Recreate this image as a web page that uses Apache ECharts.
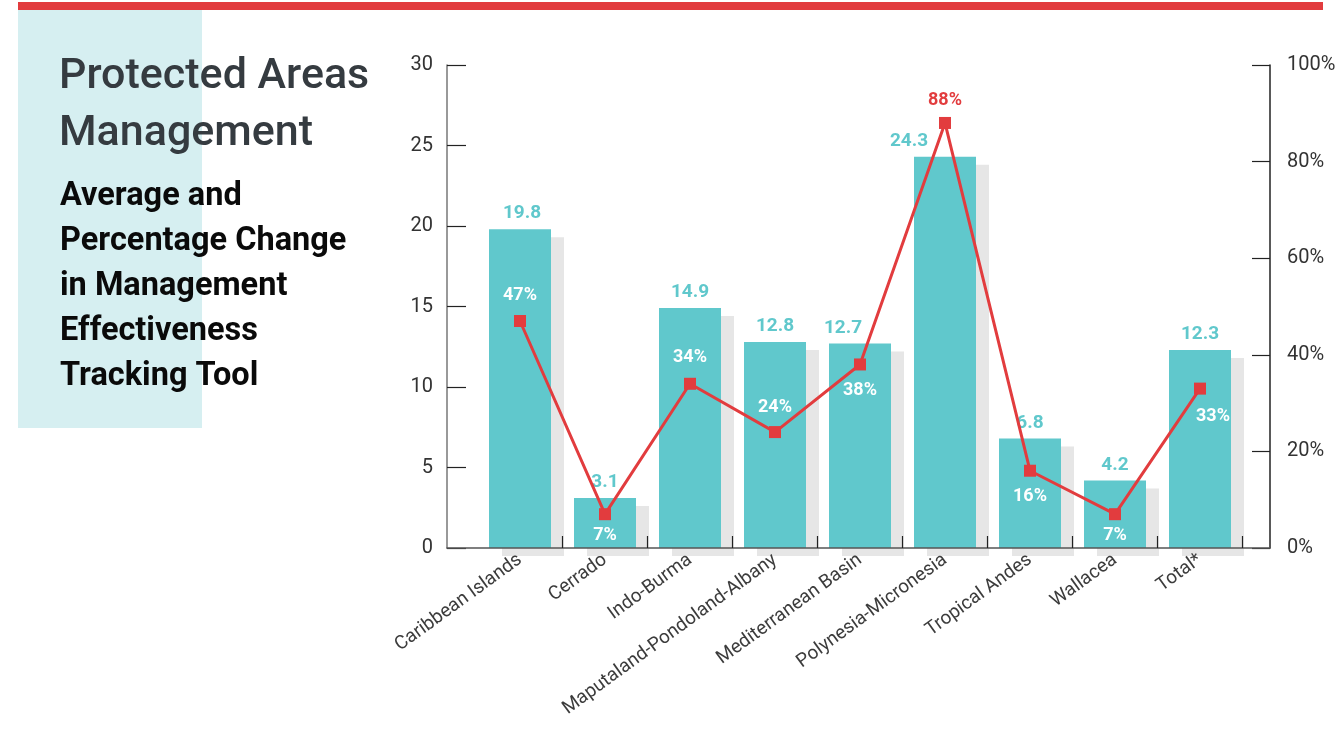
<!DOCTYPE html>
<html>
<head>
<meta charset="utf-8">
<title>Protected Areas Management</title>
<script src="https://cdn.jsdelivr.net/npm/echarts@6/dist/echarts.min.js"></script>
<style>
  html, body { margin: 0; padding: 0; background: #ffffff; }
  #chart { width: 1340px; height: 729px; }
</style>
</head>
<body>
<div id="chart"></div>
<script>
// Hotspot regions along the x axis
const categories = [
  'Caribbean Islands', 'Cerrado', 'Indo-Burma', 'Maputaland-Pondoland-Albany',
  'Mediterranean Basin', 'Polynesia-Micronesia', 'Tropical Andes', 'Wallacea', 'Total*'
];
// Average METT score change (left axis)
const averageChange = [19.8, 3.1, 14.9, 12.8, 12.7, 24.3, 6.8, 4.2, 12.3];
// Percentage change in METT score (right axis)
const percentChange = [47, 7, 34, 24, 38, 88, 16, 7, 33];
// Axis tick values
const leftTicks = [0, 5, 10, 15, 20, 25, 30];
const rightTicks = [0, 20, 40, 60, 80, 100];

const TEAL = '#60c8cc';
const RED = '#e23c3e';
const FONT = 'Roboto, "Noto Sans", sans-serif';

// Placement of the percentage labels so they sit clear of the bars' value labels
const pctLabelPlacement = [
  { position: 'top', distance: 10 },
  { position: 'bottom', distance: 6 },
  { position: 'top', distance: 11 },
  { position: 'top', distance: 10 },
  { position: 'bottom', distance: 11 },
  { position: 'top', distance: 7, color: RED },
  { position: 'bottom', distance: 11 },
  { position: 'bottom', distance: 6 },
  { position: 'bottom', distance: 13, offset: [13, 0] }
];
// Horizontal nudges of the bar value labels where the line crosses
const barLabelOffsets = [[2, 0], [0, 0], [0, 0], [0, 0], [-17, 0], [-36, 0], [0, 0], [0, 0], [0, 0]];

const barData = averageChange.map((v, i) => ({
  value: v,
  label: { offset: barLabelOffsets[i] }
}));
const lineData = percentChange.map((v, i) => {
  const p = pctLabelPlacement[i];
  const label = { position: p.position, distance: p.distance };
  if (p.offset) label.offset = p.offset;
  if (p.color) label.color = p.color;
  return { value: v, label };
});

const chart = echarts.init(document.getElementById('chart'), null, { renderer: 'canvas' });

const option = {
  animation: false,
  backgroundColor: '#ffffff',
  graphic: [
    { type: 'rect', z: 0, shape: { x: 18, y: 2, width: 1305, height: 8 }, style: { fill: RED } },
    { type: 'rect', z: 0, shape: { x: 18, y: 10, width: 184, height: 418 }, style: { fill: '#d6eff1' } }
  ],
  title: [
    {
      text: 'Protected Areas\nManagement',
      left: 54, top: 44,
      textStyle: { fontFamily: FONT, fontSize: 43, fontWeight: 500, color: '#353b40', lineHeight: 57 }
    },
    {
      text: 'Average and\nPercentage Change\nin Management\nEffectiveness\nTracking Tool',
      left: 55, top: 169,
      textStyle: { fontFamily: FONT, fontSize: 32.5, fontWeight: 'bold', color: '#0a0a0a', lineHeight: 45 }
    }
  ],
  grid: [
    { left: 447, right: 70, top: 65, bottom: 181 },
    { left: 477.5, right: 97.5, top: 65, bottom: 181 }
  ],
  xAxis: [
    {
      // baseline spanning the full plot width
      gridIndex: 0, type: 'value', min: 0, max: 1, z: 10,
      axisLine: { show: true, lineStyle: { color: '#555555', width: 1.5 } },
      axisTick: { show: false }, axisLabel: { show: false }, splitLine: { show: false }
    },
    {
      gridIndex: 1, type: 'category', data: categories, z: 10,
      axisLine: { show: false },
      axisTick: {
        show: true, inside: true, length: 12,
        interval: (i) => i > 0,
        lineStyle: { color: '#222222', width: 1.2 }
      },
      axisLabel: {
        rotate: 36, margin: 10, interval: 0,
        fontFamily: FONT, fontSize: 19, color: '#3c3c3c'
      },
      splitLine: { show: false }
    }
  ],
  yAxis: [
    {
      gridIndex: 0, type: 'value', position: 'left',
      min: leftTicks[0], max: leftTicks[leftTicks.length - 1], interval: leftTicks[1] - leftTicks[0],
      axisLine: { show: true, lineStyle: { color: '#777777', width: 1.5 } },
      axisTick: { show: true, inside: true, length: 19, lineStyle: { color: '#222222', width: 1.2 } },
      axisLabel: { margin: 14, fontFamily: FONT, fontSize: 20, color: '#333333' },
      splitLine: { show: false }
    },
    {
      gridIndex: 0, type: 'value', position: 'right',
      min: rightTicks[0], max: rightTicks[rightTicks.length - 1], interval: rightTicks[1] - rightTicks[0],
      axisLine: { show: true, lineStyle: { color: '#222222', width: 1.5 } },
      axisTick: { show: true, inside: true, length: 18, lineStyle: { color: '#222222', width: 1.2 } },
      axisLabel: { margin: 17, formatter: '{value}%', fontFamily: FONT, fontSize: 20, color: '#333333' },
      splitLine: { show: false }
    },
    {
      gridIndex: 1, type: 'value', show: false,
      min: leftTicks[0], max: leftTicks[leftTicks.length - 1]
    },
    {
      gridIndex: 1, type: 'value', show: false,
      min: rightTicks[0], max: rightTicks[rightTicks.length - 1]
    }
  ],
  series: [
    {
      name: 'Average change',
      type: 'bar',
      xAxisIndex: 1, yAxisIndex: 2,
      barWidth: 62,
      data: barData,
      itemStyle: {
        color: TEAL,
        shadowColor: '#e6e6e6',
        shadowBlur: 0,
        shadowOffsetX: 13,
        shadowOffsetY: 8
      },
      label: {
        show: true, position: 'top', distance: 6,
        fontFamily: FONT, fontSize: 19, fontWeight: 'bold', color: TEAL
      },
      emphasis: { disabled: true },
      z: 2
    },
    {
      name: 'Percentage change',
      type: 'line',
      xAxisIndex: 1, yAxisIndex: 3,
      data: lineData,
      symbol: 'rect',
      symbolSize: 12,
      lineStyle: { color: RED, width: 3 },
      itemStyle: { color: RED },
      label: {
        show: true,
        formatter: '{c}%',
        fontFamily: FONT, fontSize: 18, fontWeight: 'bold', color: '#ffffff'
      },
      emphasis: { disabled: true },
      z: 3
    }
  ]
};

chart.setOption(option);
</script>
</body>
</html>
